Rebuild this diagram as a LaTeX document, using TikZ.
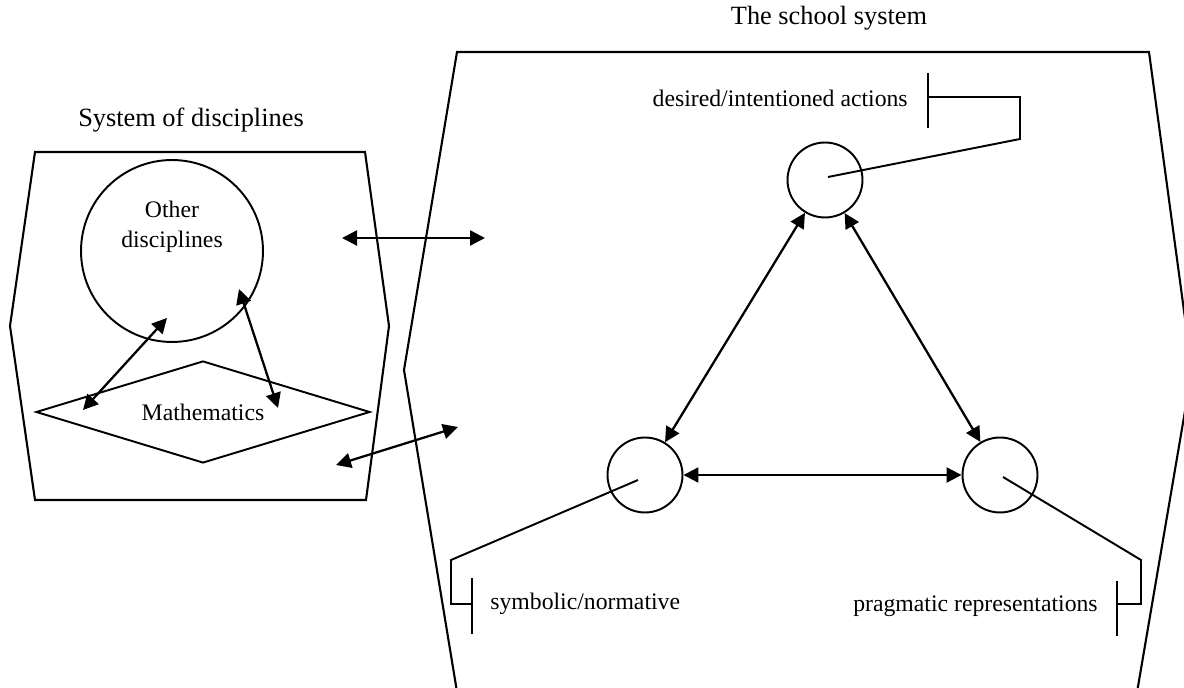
\documentclass[tikz,border=0pt]{standalone}
\usepackage{fontspec}
\setmainfont{Liberation Serif}
\usetikzlibrary{arrows.meta,positioning,calc,shapes.geometric}
\tikzset{
  frame/.style={line width=1.2pt},
  unit/.style={draw,circle,line width=1.1pt,minimum size=1.5cm,inner sep=0pt},
  dblarr/.style={{Triangle[length=3mm,width=3mm]}-{Triangle[length=3mm,width=3mm]},line width=1.3pt},
  callout/.style={line width=1.1pt},
  lbl/.style={font=\fontsize{13.5}{17}\selectfont,inner sep=0pt},
  title/.style={font=\fontsize{15}{18}\selectfont,inner sep=0pt}
}
\begin{document}
\begin{tikzpicture}[x=0.02cm,y=-0.02cm]
  \clip (0,0) rectangle (1184,688);
  % the two systems
  \draw[frame] (35,152) -- (365,152) -- (389,326) -- (366,500) -- (35,500) -- (10,326) -- cycle;
  \draw[frame] (457,52) -- (1149,52) -- (1192,370) -- (1134,710) -- (460,710) -- (404,370) -- cycle;
  \node[title] (sysdisc) at (191,120) {System of disciplines};
  \node[title] (school) at (829,18) {The school system};

  % system of disciplines
  \node[draw,circle,line width=1.1pt,minimum size=3.64cm,
    label={[lbl,align=center,yshift=0.48cm]center:Other\\disciplines}] (others) at (172,251) {};
  \node[draw,diamond,aspect=3.3,minimum width=6.68cm,minimum height=2.04cm,line width=1.1pt,lbl] (math) at (203,412) {Mathematics};
  \coordinate (mathL) at (83,410);
  \coordinate (othL) at (167,318);
  \coordinate (mathR) at (278,408);
  \coordinate (othR) at (239,289);
  \draw[dblarr] (mathL) -- (othL);
  \draw[dblarr] (mathR) -- (othR);

  % between the systems
  \coordinate (upA) at (342,238);
  \coordinate (upB) at (485,238);
  \coordinate (lowA) at (336,465);
  \coordinate (lowB) at (458,427);
  \draw[dblarr] (upA) -- (upB);
  \draw[dblarr] (lowA) -- (lowB);

  % school system
  \node[unit] (intent) at (825,180) {};
  \node[unit] (symbolic) at (645,475) {};
  \node[unit] (pragmatic) at (1000,475) {};
  \draw[dblarr] (intent) -- (symbolic);
  \draw[dblarr] (intent) -- (pragmatic);
  \draw[dblarr] (symbolic) -- (pragmatic);

  % callouts
  \node[lbl,anchor=east] (intentlbl) at (908,98) {desired/intentioned actions};
  \draw[callout] ($(intentlbl.east)+(20,-25)$) -- ++(0,55);
  \draw[callout] ($(intentlbl.east)+(20,-1)$) -- ++(92,0) -- ++(0,42) -- ($(intent.center)+(3,-3)$);
  \node[lbl,anchor=west] (symlbl) at (490,604) {symbolic/normative};
  \draw[callout] ($(symlbl.west)+(-18,-26)$) -- ++(0,56);
  \draw[callout] ($(symlbl.west)+(-18,0)$) -- ++(-21,0) -- ++(0,-44) -- ($(symbolic.center)+(-7,5)$);
  \node[lbl,anchor=east] (praglbl) at (1098,606) {pragmatic representations};
  \draw[callout] ($(praglbl.east)+(19,-25)$) -- ++(0,55);
  \draw[callout] ($(praglbl.east)+(19,-2)$) -- ++(24,0) -- ++(0,-44) -- ($(pragmatic.center)+(3,2)$);
\end{tikzpicture}
\end{document}
